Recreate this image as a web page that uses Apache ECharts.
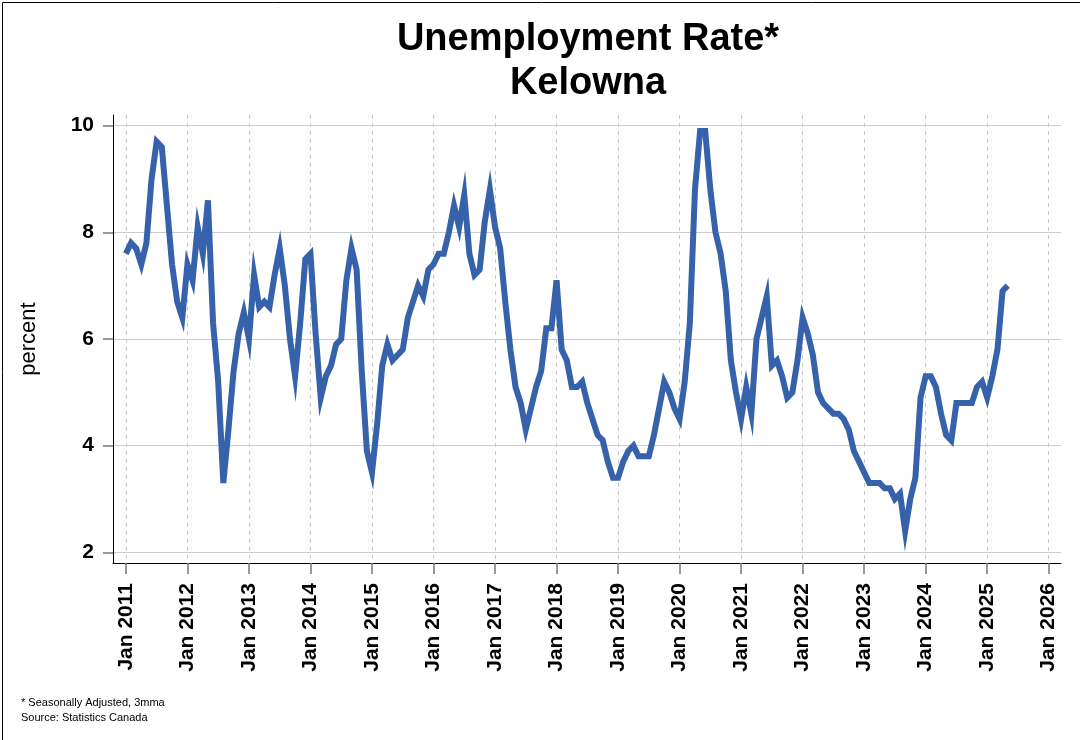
<!DOCTYPE html>
<html>
<head>
<meta charset="utf-8">
<title>Unemployment Rate - Kelowna</title>
<script src="https://cdn.jsdelivr.net/npm/echarts@6/dist/echarts.min.js"></script>
<style>
html, body { margin: 0; padding: 0; background: #fff; }
#main { width: 1080px; height: 740px; }
</style>
</head>
<body>
<div id="main"></div>
<script>
// monthly rates, Jan 2011 onwards (seasonally adjusted, 3mma)
var startYear = 2011;
var rate2011 = [7.6, 7.8, 7.7, 7.4, 7.8, 9.0, 9.7, 9.6, 8.5, 7.4, 6.7, 6.4];
var rate2012 = [7.4, 7.1, 8.1, 7.6, 8.6, 6.3, 5.2, 3.3, 4.3, 5.4, 6.1, 6.5];
var rate2013 = [6.0, 7.2, 6.6, 6.7, 6.6, 7.2, 7.7, 7.0, 6.0, 5.3, 6.3, 7.5];
var rate2014 = [7.6, 6.1, 4.9, 5.3, 5.5, 5.9, 6.0, 7.1, 7.7, 7.3, 5.4, 3.9];
var rate2015 = [3.5, 4.4, 5.5, 5.9, 5.6, 5.7, 5.8, 6.4, 6.7, 7.0, 6.8, 7.3];
var rate2016 = [7.4, 7.6, 7.6, 8.0, 8.5, 8.1, 8.7, 7.6, 7.2, 7.3, 8.2, 8.8];
var rate2017 = [8.1, 7.7, 6.7, 5.8, 5.1, 4.8, 4.3, 4.7, 5.1, 5.4, 6.2, 6.2];
var rate2018 = [7.1, 5.8, 5.6, 5.1, 5.1, 5.2, 4.8, 4.5, 4.2, 4.1, 3.7, 3.4];
var rate2019 = [3.4, 3.7, 3.9, 4.0, 3.8, 3.8, 3.8, 4.2, 4.7, 5.2, 5.0, 4.7];
var rate2020 = [4.5, 5.2, 6.3, 8.8, 9.9, 9.9, 8.8, 8.0, 7.6, 6.9, 5.6, 5.0];
var rate2021 = [4.5, 5.1, 4.6, 6.0, 6.4, 6.8, 5.5, 5.6, 5.3, 4.9, 5.0, 5.6];
var rate2022 = [6.4, 6.1, 5.7, 5.0, 4.8, 4.7, 4.6, 4.6, 4.5, 4.3, 3.9, 3.7];
var rate2023 = [3.5, 3.3, 3.3, 3.3, 3.2, 3.2, 3.0, 3.1, 2.4, 3.0, 3.4, 4.9];
var rate2024 = [5.3, 5.3, 5.1, 4.6, 4.2, 4.1, 4.8, 4.8, 4.8, 4.8, 5.1, 5.2];
var rate2025 = [4.9, 5.3, 5.8, 6.9, 7.0];

var yTicks = [2, 4, 6, 8, 10];
var xTicks = [2011, 2012, 2013, 2014, 2015, 2016, 2017, 2018, 2019, 2020, 2021, 2022, 2023, 2024, 2025, 2026];

var allRates = [].concat(rate2011, rate2012, rate2013, rate2014, rate2015, rate2016, rate2017,
    rate2018, rate2019, rate2020, rate2021, rate2022, rate2023, rate2024, rate2025);

// x as decimal year, one step per month
var lineData = allRates.map(function(v, i) {
    return [startYear + i / 12, v];
});

var fontName = '"Liberation Sans", Arial, Helvetica, sans-serif';
var lineColor = '#3562ab';

var myChart = echarts.init(document.getElementById('main'));

var option = {
    backgroundColor: '#ffffff',
    animation: false,
    textStyle: { fontFamily: fontName },
    grid: {
        left: 113,
        right: 19,
        top: 115,
        bottom: 177,
        containLabel: false
    },
    graphic: [
        {
            type: 'rect',
            left: 0, top: 0,
            shape: { x: 0.5, y: 0.5, width: 1079, height: 739 },
            style: { fill: 'none', stroke: '#000', lineWidth: 1 },
            silent: true
        },
        {
            type: 'text',
            x: 588, y: 40,
            style: {
                text: 'Unemployment Rate*',
                font: 'bold 38px ' + fontName,
                fill: '#000',
                textAlign: 'center',
                textVerticalAlign: 'middle'
            }
        },
        {
            type: 'text',
            x: 588, y: 84,
            style: {
                text: 'Kelowna',
                font: 'bold 38px ' + fontName,
                fill: '#000',
                textAlign: 'center',
                textVerticalAlign: 'middle'
            }
        },
        {
            type: 'text',
            x: 21, y: 703,
            style: {
                text: '* Seasonally Adjusted, 3mma',
                font: '11px ' + fontName,
                fill: '#000',
                textVerticalAlign: 'middle'
            }
        },
        {
            type: 'text',
            x: 21, y: 718,
            style: {
                text: 'Source: Statistics Canada',
                font: '11px ' + fontName,
                fill: '#000',
                textVerticalAlign: 'middle'
            }
        }
    ],
    xAxis: {
        type: 'value',
        min: 2010.79,
        max: 2026.2,
        axisLine: { onZero: false, lineStyle: { color: '#000', width: 1 } },
        axisTick: {
            customValues: xTicks,
            length: 11,
            lineStyle: { color: '#777', width: 1.5 }
        },
        axisLabel: {
            customValues: xTicks,
            rotate: 90,
            margin: 20,
            color: '#000',
            fontSize: 21,
            fontWeight: 'bold',
            fontFamily: fontName,
            formatter: function(v) { return 'Jan ' + Math.round(v); }
        },
        splitLine: {
            show: true,
            lineStyle: { color: '#c8c8c8', type: [4, 4], width: 1 }
        }
    },
    yAxis: {
        type: 'value',
        min: 1.8,
        max: 10.2,
        name: 'percent',
        nameLocation: 'middle',
        nameGap: 73,
        nameTextStyle: { color: '#000', fontSize: 22, fontFamily: fontName },
        axisLine: { show: true, lineStyle: { color: '#000', width: 1 } },
        axisTick: {
            show: true,
            customValues: yTicks,
            length: 10,
            lineStyle: { color: '#777', width: 1.5 }
        },
        axisLabel: {
            customValues: yTicks,
            margin: 19,
            color: '#000',
            fontSize: 21,
            fontWeight: 'bold',
            fontFamily: fontName
        },
        splitLine: {
            show: true,
            lineStyle: { color: '#cccccc', width: 1 }
        }
    },
    series: [
        {
            name: 'Kelowna',
            type: 'line',
            data: lineData,
            symbol: 'none',
            lineStyle: { color: lineColor, width: 6, join: 'miter', cap: 'butt' }
        }
    ]
};

myChart.setOption(option);
</script>
</body>
</html>
